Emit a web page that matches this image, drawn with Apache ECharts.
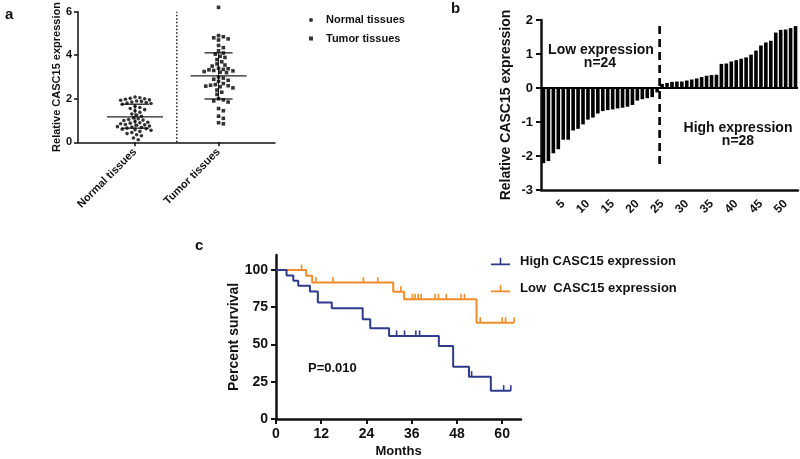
<!DOCTYPE html>
<html><head><meta charset="utf-8">
<script src="https://cdn.jsdelivr.net/npm/echarts@6/dist/echarts.min.js"></script>
<style>html,body{margin:0;padding:0;background:#fff}#c{width:800px;height:459px}</style>
</head><body><div id="c"></div>
<script>
// ---------- Panel a data ----------
const groupsA = ['Normal tissues', 'Tumor tissues'];
const normalVals = [2.08, 2.05, 2.02, 2.0, 1.98, 1.95, 1.93, 1.9, 1.88, 1.85, 1.83, 1.8, 1.78, 1.75, 1.65, 1.6, 1.55, 1.5, 1.45, 1.38, 1.3, 1.25, 1.2, 1.12, 1.08, 1.05, 1.02, 1.0, 0.95, 0.92, 0.9, 0.88, 0.85, 0.82, 0.8, 0.78, 0.75, 0.72, 0.7, 0.68, 0.65, 0.62, 0.6, 0.58, 0.55, 0.5, 0.45, 0.4, 0.35, 0.3, 0.2, 0.12];
const tumorVals = [6.2, 4.9, 4.85, 4.8, 4.75, 4.7, 4.45, 4.35, 4.2, 4.1, 4.05, 3.95, 3.9, 3.8, 3.7, 3.6, 3.55, 3.5, 3.4, 3.38, 3.35, 3.33, 3.3, 3.28, 3.25, 3.22, 3.2, 3.0, 2.95, 2.9, 2.85, 2.8, 2.7, 2.65, 2.62, 2.6, 2.58, 2.55, 2.5, 2.4, 2.3, 2.2, 2.0, 1.95, 1.9, 1.85, 1.55, 1.45, 1.2, 1.1, 0.9, 0.85];
const meanA = [1.17, 3.05];
const sdLowA = [0.65, 1.99];
const sdHighA = [1.75, 4.11];

// ---------- Panel b data ----------
const barVals = [-2.21, -2.15, -1.92, -1.8, -1.52, -1.52, -1.25, -1.2, -1.07, -0.93, -0.87, -0.75, -0.68, -0.65, -0.63, -0.6, -0.58, -0.55, -0.5, -0.37, -0.33, -0.3, -0.27, -0.13,
  0.12, 0.15, 0.18, 0.19, 0.19, 0.22, 0.25, 0.28, 0.32, 0.36, 0.38, 0.39, 0.71, 0.72, 0.78, 0.82, 0.86, 0.9, 0.98, 1.1, 1.25, 1.34, 1.39, 1.63, 1.71, 1.72, 1.76, 1.82];
const barCats = barVals.map((v, i) => String(i + 1));
const dashExtent = [-2.36, 1.82];

// ---------- Panel c data ----------
const highTimes = [0, 2.8, 4.6, 5.9, 9.0, 11.1, 14.8, 23.0, 25.0, 30.0, 43.2, 47.0, 51.2, 57.0, 62.3];
const highSurv  = [100, 96.2, 92.8, 89.3, 85.5, 78.1, 74.3, 66.9, 60.9, 55.7, 49.0, 35.1, 28.4, 19.0, 19.0];
const highCensor = [32.0, 34.1, 37.1, 38.1, 51.9, 60.4, 62.3];
const lowTimes = [0, 8.0, 9.6, 31.1, 34.0, 53.2, 63.2];
const lowSurv  = [100, 96.0, 91.5, 85.4, 80.3, 64.6, 64.6];
const lowCensor = [6.8, 10.6, 15.1, 23.2, 27.0, 33.1, 36.2, 36.9, 37.7, 38.5, 42.2, 43.1, 45.2, 49.1, 50.0, 54.2, 60.0, 60.9, 63.2];
const xTicksC = [0, 12, 24, 36, 48, 60];
const yTicksC = [0, 25, 50, 75, 100];
const seriesNamesC = ['High CASC15 expression', 'Low  CASC15 expression'];
const pText = 'P=0.010';

const FONT = '"Liberation Sans", Arial, sans-serif';
const BLUE = '#2E3A8C';
const ORANGE = '#F28C28';

// beeswarm layout (pixel-based), computed in code
function swarm(vals, center, pxPerX, pxPerY, d) {
  const placed = [], out = [];
  const sorted = vals.slice().sort((a, b) => b - a);
  for (const v of sorted) {
    const py = v * pxPerY;
    let off = 0;
    for (let k = 0; k < 40; k++) {
      const cand = k === 0 ? 0 : (k % 2 ? 1 : -1) * Math.ceil(k / 2) * 1.6;
      let ok = true;
      for (const p of placed) {
        const dx = p[0] - cand, dy = p[1] - py;
        if (dx * dx + dy * dy < d * d) { ok = false; break; }
      }
      if (ok) { off = cand; break; }
    }
    placed.push([off, py]);
    out.push([center + off / pxPerX, v]);
  }
  return out;
}
const PXX = 83.5, PXY = 21.8;
const normalPts = swarm(normalVals, 0, PXX, PXY, 4.0);
const tumorPts = swarm(tumorVals, 1, PXX, PXY, 4.2);

function survAt(times, surv, t) {
  let s = surv[0];
  for (let i = 0; i < times.length; i++) if (times[i] <= t) s = surv[i];
  return s;
}
const highCensorPts = highCensor.map(t => [t, survAt(highTimes, highSurv, t)]);
const lowCensorPts = lowCensor.map(t => [t, survAt(lowTimes, lowSurv, t)]);

function censorSeries(pts, color) {
  return {
    type: 'custom', xAxisIndex: 3, yAxisIndex: 2, data: pts, silent: true,
    renderItem(params, api) {
      const p = api.coord([api.value(0), api.value(1)]);
      return { type: 'line', shape: { x1: p[0], y1: p[1], x2: p[0], y2: p[1] - 5.5 }, style: { stroke: color, lineWidth: 1.6 } };
    }
  };
}

const chart = echarts.init(document.getElementById('c'), null, { renderer: 'canvas' });
const bold = (size) => ({ fontFamily: FONT, fontWeight: 'bold', fontSize: size, color: '#111' });
const KMICON = 'path://M0,8 L24,8 L24,10.2 L0,10.2 Z M11,1 L13,1 L13,8 L11,8 Z';
const nLow = barVals.filter(v => v < 0).length;
const nHigh = barVals.length - nLow;

const option = {
  animation: false,
  backgroundColor: '#fff',
  grid: [
    { left: 78, top: 11.7, width: 197, height: 130.6 },
    { left: 541, top: 20, width: 257, height: 170 },
    { left: 276, top: 255, width: 245, height: 164 }
  ],
  xAxis: [
    { gridIndex: 0, type: 'value', min: -0.683, max: 1.676,
      axisLine: { onZero: false, lineStyle: { color: '#111', width: 1.5 } },
      axisTick: { customValues: [0, 1], length: 4, lineStyle: { width: 1.5, color: '#111' } },
      axisLabel: { customValues: [0, 1], rotate: 45, margin: 8, formatter: v => groupsA[Math.round(v)], ...bold(11) },
      splitLine: { show: false } },
    { gridIndex: 1, type: 'category', data: barCats,
      axisLine: { onZero: false, lineStyle: { color: '#111', width: 2.5 } },
      axisTick: { show: false },
      axisLabel: { rotate: 45, margin: 12, interval: (i, v) => (i + 1) % 5 === 0, ...bold(12) },
      splitLine: { show: false } },
    { gridIndex: 1, type: 'value', min: 0.5, max: barVals.length + 0.5, show: false },
    { gridIndex: 2, type: 'value', min: 0, max: 65,
      name: 'Months', nameLocation: 'middle', nameGap: 26, nameTextStyle: bold(13),
      axisLine: { onZero: false, lineStyle: { color: '#111', width: 2.5 } },
      axisTick: { customValues: xTicksC, length: 5, lineStyle: { width: 2, color: '#111' } },
      axisLabel: { customValues: xTicksC, margin: 8, ...bold(14) },
      splitLine: { show: false } }
  ],
  yAxis: [
    { gridIndex: 0, type: 'value', min: 0, max: 6, interval: 2,
      name: 'Relative CASC15 expression', nameLocation: 'middle', nameGap: 10, nameTextStyle: bold(11),
      axisLine: { show: true, onZero: false, lineStyle: { color: '#111', width: 1.5 } },
      axisTick: { show: true, length: 4, lineStyle: { width: 1.5, color: '#111' } },
      axisLabel: { margin: 6, ...bold(11) },
      splitLine: { show: false } },
    { gridIndex: 1, type: 'value', min: -3, max: 2, interval: 1,
      name: 'Relative CASC15 expression', nameLocation: 'middle', nameGap: 28, nameTextStyle: bold(14),
      axisLine: { show: true, onZero: false, lineStyle: { color: '#111', width: 2.5 } },
      axisTick: { show: true, length: 5, lineStyle: { width: 2, color: '#111' } },
      axisLabel: { margin: 8, ...bold(13) },
      splitLine: { show: false } },
    { gridIndex: 2, type: 'value', min: 0, max: 110,
      name: 'Percent survival', nameLocation: 'middle', nameGap: 29, nameTextStyle: bold(14),
      axisLine: { show: true, onZero: false, lineStyle: { color: '#111', width: 2.5 } },
      axisTick: { show: true, customValues: yTicksC, length: 5, lineStyle: { width: 2, color: '#111' } },
      axisLabel: { customValues: yTicksC, margin: 8, ...bold(14) },
      splitLine: { show: false } }
  ],
  legend: [
    { data: [{ name: groupsA[0], icon: 'circle' }, { name: groupsA[1], icon: 'rect' }],
      orient: 'vertical', left: 309, top: 14.5, padding: 0, itemWidth: 4, itemHeight: 4, itemGap: 7.5,
      selectedMode: false, textStyle: { ...bold(11), padding: [0, 0, 0, 8] } },
    { data: seriesNamesC.map(n => ({ name: n, icon: KMICON })),
      orient: 'vertical', left: 491, top: 255, padding: 0, itemWidth: 19, itemHeight: 8, itemGap: 14,
      selectedMode: false, textStyle: { ...bold(13), padding: [0, 0, 0, 5] } }
  ],
  series: [
    // panel a
    { name: groupsA[0], type: 'scatter', xAxisIndex: 0, yAxisIndex: 0, data: normalPts, symbol: 'circle', symbolSize: 3.6, itemStyle: { color: '#000' }, clip: false },
    { name: groupsA[1], type: 'scatter', xAxisIndex: 0, yAxisIndex: 0, data: tumorPts, symbol: 'rect', symbolSize: 3.6, itemStyle: { color: '#000' }, clip: false },
    { type: 'custom', xAxisIndex: 0, yAxisIndex: 0, silent: true,
      data: groupsA.map((g, i) => [i, meanA[i], sdLowA[i], sdHighA[i]]),
      renderItem(params, api) {
        const x = api.value(0);
        const m = api.coord([x, api.value(1)]), lo = api.coord([x, api.value(2)]), hi = api.coord([x, api.value(3)]);
        const st = { stroke: '#222', lineWidth: 1.3 };
        return { type: 'group', children: [
          { type: 'line', shape: { x1: m[0] - 28, y1: m[1], x2: m[0] + 28, y2: m[1] }, style: st },
          { type: 'line', shape: { x1: lo[0] - 14, y1: lo[1], x2: lo[0] + 14, y2: lo[1] }, style: st },
          { type: 'line', shape: { x1: hi[0] - 14, y1: hi[1], x2: hi[0] + 14, y2: hi[1] }, style: st },
          { type: 'line', shape: { x1: lo[0], y1: lo[1], x2: hi[0], y2: hi[1] }, style: { stroke: '#222', lineWidth: 1 } }
        ] };
      } },
    { type: 'line', xAxisIndex: 0, yAxisIndex: 0, data: [[0.5, 0], [0.5, 6]], symbol: 'none', silent: true,
      lineStyle: { color: '#111', width: 1.4, type: [1.5, 2] } },
    // panel b
    { type: 'bar', xAxisIndex: 1, yAxisIndex: 1, data: barVals, barCategoryGap: '27%',
      itemStyle: { color: '#000' }, silent: true,
      markLine: { silent: true, symbol: 'none', label: { show: false }, lineStyle: { color: '#000', width: 1.8, type: 'solid' }, data: [{ yAxis: 0 }] } },
    { type: 'line', xAxisIndex: 2, yAxisIndex: 1, silent: true, symbol: 'none',
      data: [[nLow + 0.5, dashExtent[1]], [nLow + 0.5, dashExtent[0]]],
      lineStyle: { color: '#000', width: 2.6, type: [8, 5] } },
    // panel c
    { name: seriesNamesC[1], type: 'line', xAxisIndex: 3, yAxisIndex: 2, step: 'end', symbol: 'none',
      data: lowTimes.map((t, i) => [t, lowSurv[i]]), lineStyle: { color: ORANGE, width: 2 }, itemStyle: { color: ORANGE } },
    censorSeries(lowCensorPts, ORANGE),
    { name: seriesNamesC[0], type: 'line', xAxisIndex: 3, yAxisIndex: 2, step: 'end', symbol: 'none',
      data: highTimes.map((t, i) => [t, highSurv[i]]), lineStyle: { color: BLUE, width: 2 }, itemStyle: { color: BLUE } },
    censorSeries(highCensorPts, BLUE)
  ],
  graphic: [
    { type: 'text', left: 5, top: 7, style: { text: 'a', font: 'bold 15px ' + FONT, fill: '#111' } },
    { type: 'text', left: 451, top: 1, style: { text: 'b', font: 'bold 15px ' + FONT, fill: '#111' } },
    { type: 'text', left: 195, top: 238, style: { text: 'c', font: 'bold 15px ' + FONT, fill: '#111' } },
    { type: 'text', x: 601, y: 50, style: { text: 'Low expression', font: 'bold 14px ' + FONT, fill: '#111', align: 'center', verticalAlign: 'middle' } },
    { type: 'text', x: 600, y: 63, style: { text: 'n=' + nLow, font: 'bold 14px ' + FONT, fill: '#111', align: 'center', verticalAlign: 'middle' } },
    { type: 'text', x: 738, y: 128, style: { text: 'High expression', font: 'bold 14px ' + FONT, fill: '#111', align: 'center', verticalAlign: 'middle' } },
    { type: 'text', x: 738, y: 141, style: { text: 'n=' + nHigh, font: 'bold 14px ' + FONT, fill: '#111', align: 'center', verticalAlign: 'middle' } },
    { type: 'text', x: 308, y: 368, style: { text: pText, font: 'bold 13px ' + FONT, fill: '#111', align: 'left', verticalAlign: 'middle' } }
  ]
};
chart.setOption(option);
</script>
</body></html>
